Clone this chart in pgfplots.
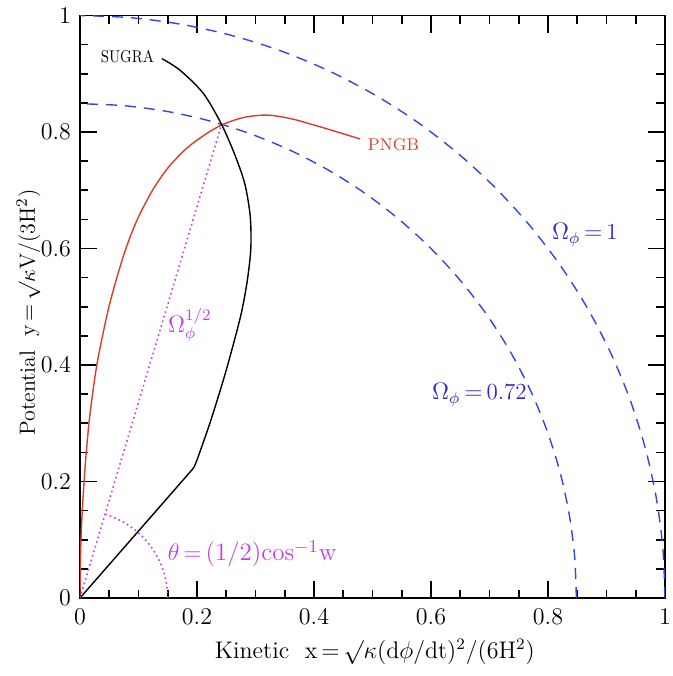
\documentclass[border=0pt]{standalone}
\usepackage{pgfplots}
\pgfplotsset{compat=1.18}
\definecolor{cblue}{RGB}{50,70,225}
\definecolor{tblue}{RGB}{40,40,200}
\definecolor{cred}{RGB}{220,60,40}
\definecolor{cmag}{RGB}{200,60,235}
\begin{document}
\begin{tikzpicture}
\begin{axis}[
  scale only axis, width=292.5pt, height=291.25pt,
  xmin=0, xmax=1, ymin=0, ymax=1,
  xtick={0,0.2,0.4,0.6,0.8,1}, ytick={0,0.2,0.4,0.6,0.8,1},
  minor tick num=3,
  tick align=inside, major tick length=8.5pt, minor tick length=4.25pt,
  xtick pos=both, ytick pos=both,
  every tick/.style={black, line width=0.8pt},
  axis line style={line width=0.8pt},
  tick label style={font=\fontsize{11.5}{13}\selectfont},
  /pgf/number format/.cd, fixed, precision=1, /pgfplots/.cd,
  xticklabel style={yshift=-2pt},
  yticklabel style={xshift=-1pt},
  xlabel={Kinetic\ \ x$\,{=}\,\surd\kappa$(d$\phi$/dt)$^2$/(6H$^2$)},
  ylabel={Potential\ \ y$\,{=}\,\surd\kappa$V/(3H$^2$)},
  xlabel style={at={(axis description cs:0.504,-0.093)}, anchor=center, font=\fontsize{12}{14}\selectfont},
  ylabel style={at={(axis description cs:-0.088,0.49)}, anchor=center, inner sep=0pt, font=\fontsize{11}{13}\selectfont},
]
% Omega_phi = 1 circle
\addplot[cblue, line width=0.7pt, dash pattern=on 5.5pt off 4pt, smooth] coordinates {
(1,0) (0.9962,0.0872) (0.9848,0.1736) (0.9659,0.2588) (0.9397,0.3420) (0.9063,0.4226)
(0.8660,0.5) (0.8192,0.5736) (0.7660,0.6428) (0.7071,0.7071) (0.6428,0.7660)
(0.5736,0.8192) (0.5,0.8660) (0.4226,0.9063) (0.3420,0.9397) (0.2588,0.9659)
(0.1736,0.9848) (0.0872,0.9962) (0,1)};
% Omega_phi = 0.72 circle
\addplot[cblue, line width=0.7pt, dash pattern=on 5.5pt off 4pt, smooth] coordinates {
(0.8485,0) (0.8453,0.0740) (0.8356,0.1473) (0.8196,0.2196) (0.7973,0.2902) (0.7690,0.3586)
(0.7348,0.4243) (0.6951,0.4867) (0.6500,0.5454) (0.6000,0.6000) (0.5454,0.6500)
(0.4867,0.6951) (0.4243,0.7348) (0.3586,0.7690) (0.2902,0.7973) (0.2196,0.8196)
(0.1473,0.8356) (0.0740,0.8453) (0,0.8485)};
% PNGB
\addplot[cred, line width=0.7pt, smooth] coordinates {
(0,0) (0.0004,0.05) (0.0017,0.1) (0.0039,0.15) (0.007,0.2) (0.0107,0.25)
(0.0153,0.3) (0.0214,0.35) (0.0288,0.4) (0.0385,0.45) (0.0495,0.5) (0.063,0.55)
(0.0785,0.6) (0.098,0.65) (0.124,0.70) (0.15,0.738) (0.18,0.770) (0.21,0.793)
(0.242,0.812) (0.28,0.825) (0.32,0.829) (0.36,0.823) (0.40,0.812) (0.44,0.800) (0.479,0.788)};
% SUGRA
\addplot[black, line width=0.7pt] coordinates {(0,0) (0.194,0.223)};
\addplot[black, line width=0.7pt, smooth] coordinates {
(0.194,0.223) (0.2,0.237) (0.222,0.30) (0.245,0.374) (0.262,0.435) (0.276,0.49)
(0.286,0.545) (0.292,0.60) (0.291,0.655) (0.282,0.71) (0.265,0.76) (0.242,0.813)
(0.211,0.866) (0.171,0.906) (0.140,0.926)};
% Omega^{1/2} line
\addplot[cmag, line width=0.8pt, dash pattern=on 0.8pt off 1.6pt] coordinates {(0,0) (0.242,0.813)};
% theta arc
\addplot[cmag, line width=0.8pt, dash pattern=on 0.8pt off 1.6pt, smooth] coordinates {
(0.15,0) (0.1477,0.0260) (0.1410,0.0513) (0.1299,0.075) (0.1149,0.0964)
(0.0964,0.1149) (0.075,0.1299) (0.0513,0.1410) (0.0429,0.1437)};
% labels
\node[font=\fontsize{8.5}{9}\selectfont] at (axis cs:0.081,0.929) {\scalebox{0.85}[1]{SUGRA}};
\node[cred, anchor=west, font=\fontsize{8.5}{9}\selectfont] at (axis cs:0.480,0.778) {PNGB};
\node[tblue, anchor=west, font=\fontsize{11.5}{13}\selectfont] at (axis cs:0.795,0.623) {$\Omega_\phi\,{=}\,$1};
\node[tblue, anchor=west, font=\fontsize{11.5}{13}\selectfont] at (axis cs:0.590,0.349) {$\Omega_\phi\,{=}\,$0.72};
\node[cmag, font=\fontsize{11.5}{13}\selectfont] at (axis cs:0.188,0.469) {$\Omega_\phi^{1/2}$};
\node[cmag, anchor=west, font=\fontsize{12.5}{14}\selectfont] at (axis cs:0.138,0.076) {$\theta\,{=}\,$(1/2)cos$^{-1}$w};
\end{axis}
\pgfresetboundingbox
\path ([xshift=-40pt,yshift=-39pt]current axis.south west) rectangle ([xshift=4pt,yshift=7.75pt]current axis.north east);
\end{tikzpicture}
\end{document}
